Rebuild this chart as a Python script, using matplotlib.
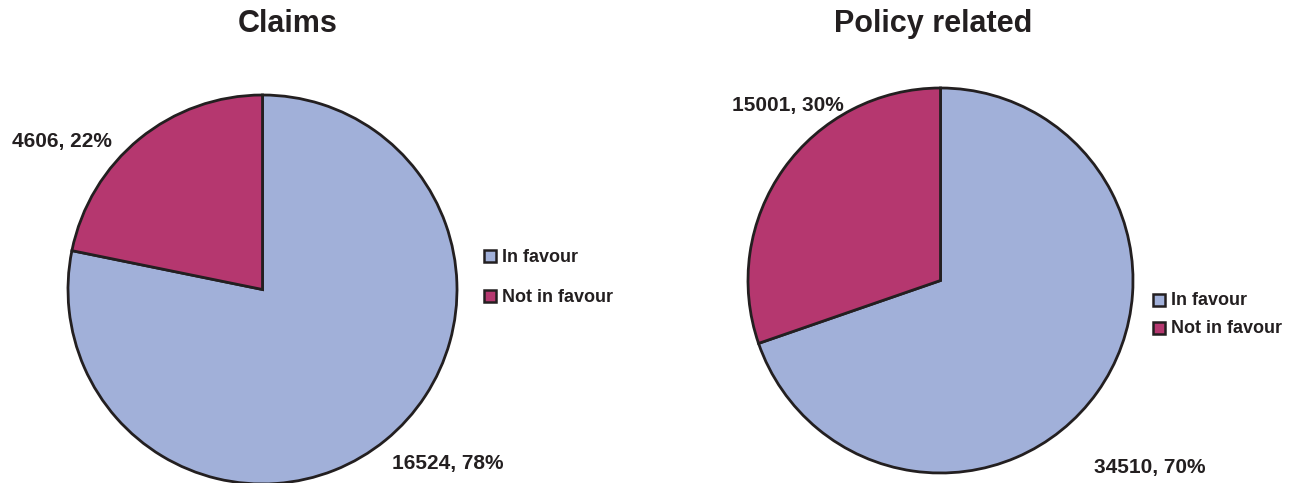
import matplotlib
matplotlib.use("Agg")
import matplotlib.pyplot as plt
from matplotlib import font_manager
from matplotlib.patches import Rectangle

# Data
categories = ["In favour", "Not in favour"]
claims_values = [16524, 4606]
policy_values = [34510, 15001]
titles = ["Claims", "Policy related"]
colors = ["#A1B0D9", "#B5376F"]
edge = "#231F20"

W, H = 1296, 483
names = {f.name for f in font_manager.fontManager.ttflist}
family = "Liberation Sans Narrow" if "Liberation Sans Narrow" in names else "Liberation Sans"
plt.rcParams["font.family"] = [family, "DejaVu Sans"]
plt.rcParams["font.weight"] = "bold"

fig = plt.figure(figsize=(W / 100, H / 100), dpi=100)
fig.patch.set_facecolor("white")


def px_axes(cx, cy, r):
    return fig.add_axes([(cx - r) / W, (H - cy - r) / H, 2 * r / W, 2 * r / H])


def fmt(v, total):
    return f"{v}, {round(100 * v / total)}%"


panels = [
    dict(values=claims_values, title=titles[0], center=(262.5, 289.5), r=194.5,
         title_xy=(288, 24), label_xy=[(448, 464), (62, 141)],
         legend_x=484, legend_y=[256, 296]),
    dict(values=policy_values, title=titles[1], center=(940.5, 280.5), r=192.5,
         title_xy=(933, 24), label_xy=[(1150, 468), (788, 105)],
         legend_x=1153, legend_y=[299.5, 327.5]),
]

sq = 12
for p in panels:
    ax = px_axes(*p["center"], p["r"])
    wedges, _ = ax.pie(p["values"], colors=colors, startangle=90, counterclock=False,
                       wedgeprops=dict(edgecolor=edge, linewidth=2.0))
    ax.set_xlim(-1, 1)
    ax.set_ylim(-1, 1)
    ax.set_aspect("equal")
    ax.axis("off")
    total = sum(p["values"])
    for v, (lx, ly) in zip(p["values"], p["label_xy"]):
        fig.text(lx / W, 1 - ly / H, fmt(v, total), ha="center", va="center",
                 fontsize=15, fontweight="bold", color=edge)
    fig.text(p["title_xy"][0] / W, 1 - p["title_xy"][1] / H, p["title"], ha="center",
             va="center", fontsize=22, fontweight="bold", color=edge)
    # legend: colour key squares with category names
    lx0 = p["legend_x"]
    for cat, col, ly in zip(categories, colors, p["legend_y"]):
        fig.patches.append(Rectangle(((lx0) / W, (H - ly - sq / 2) / H), sq / W, sq / H,
                                     transform=fig.transFigure, facecolor=col,
                                     edgecolor=edge, linewidth=1.8))
        fig.text((lx0 + sq + 6) / W, 1 - (ly + 1) / H, cat, ha="left", va="center",
                 fontsize=13, fontweight="bold", color=edge)

fig.savefig("out.png", dpi=100, facecolor="white")
